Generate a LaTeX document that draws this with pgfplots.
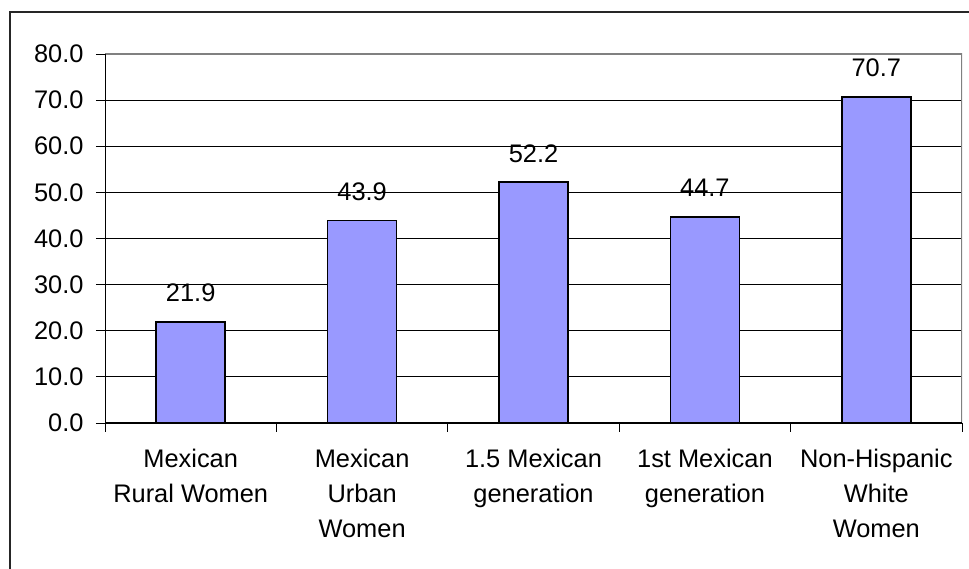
\documentclass[border=0pt]{standalone}
\usepackage{pgfplots}
\pgfplotsset{compat=1.18}
\usepackage{fontspec}
\setmainfont{Liberation Sans}
\definecolor{barblue}{HTML}{9999FF}
\definecolor{frame}{HTML}{808080}

\begin{document}
\begin{tikzpicture}[x=1bp,y=1bp]
  \useasboundingbox (0,0) rectangle (969,569);
  % chart area border (left and top edges)
  \draw[line width=1.6bp, black!85] (10,0) -- (10,557) -- (969,557);
  \begin{axis}[
    at={(105bp,146bp)}, anchor=south west,
    scale only axis, width=857bp, height=369bp,
    xmin=-0.5, xmax=4.5, ymin=0, ymax=80,
    axis line style={draw=none},
    xtick={0,1,2,3,4},
    xticklabels={{Mexican\\Rural Women},{Mexican\\Urban\\Women},{1.5 Mexican\\generation},{1st Mexican\\generation},{Non-Hispanic\\White\\Women}},
    major x tick style={draw=none},
    minor xtick={-0.5,0.5,1.5,2.5,3.5,4.5},
    minor tick length=9bp,
    minor x tick style={black, line width=0.9bp},
    xticklabel style={align=center, font=\fontsize{25.5}{35}\selectfont, yshift=-14bp},
    ytick={0,10,...,80},
    tick align=outside,
    major tick length=9bp,
    major y tick style={black, line width=0.9bp},
    yticklabel style={font=\fontsize{25.5}{30}\selectfont, xshift=-9bp},
    /pgf/number format/.cd, fixed, fixed zerofill, precision=1, assume math mode=true,
    /pgfplots/.cd,
    ymajorgrids,
    grid style={black, line width=0.8bp},
    tick pos=left,
    ybar, bar width=0.4035,
    nodes near coords,
    every node near coord/.append style={anchor=base, yshift=20bp, font=\fontsize{25.5}{30}\selectfont},
  ]
    \addplot[fill=barblue, draw=black, line width=1.6bp] coordinates {
      (0,21.9) (1,43.9) (2,52.2) (3,44.7) (4,70.7)
    };
    \draw[frame, line width=1.1bp] (rel axis cs:0,1) -- (rel axis cs:1,1) -- (rel axis cs:1,0);
    \draw[black, line width=1.1bp] (rel axis cs:0,1) -- (rel axis cs:0,0) -- (rel axis cs:1,0);
  \end{axis}
\end{tikzpicture}
\end{document}
